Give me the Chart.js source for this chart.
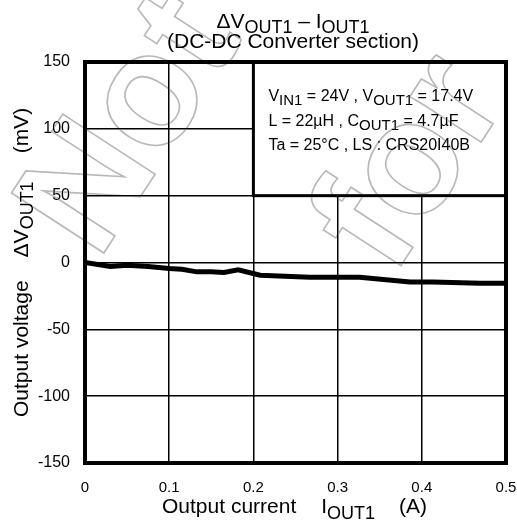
<!DOCTYPE html>
<html>
<head>
<meta charset="utf-8">
<script src="https://cdn.jsdelivr.net/npm/chart.js@4"></script>
<style>
  body { margin: 0; background: #fff; }
  canvas { display: block; }
</style>
</head>
<body>
<canvas id="chartVout" width="517" height="522"></canvas>
<script>
// output current (A) vs output voltage change (mV)
var currentA = [0, 0.03, 0.05, 0.075, 0.1, 0.115, 0.133, 0.15, 0.165, 0.182, 0.208, 0.267, 0.326, 0.386, 0.413, 0.469, 0.5];
var deltaMv = [0, -3, -2, -3, -4.5, -5, -7, -7, -7.5, -5.5, -9.5, -11, -11, -14.5, -14.5, -15.5, -15.5];
var xTickLabels = ["0", "0.1", "0.2", "0.3", "0.4", "0.5"];
var yTickLabels = ["-150", "-100", "-50", "0", "50", "100", "150"];

var FONT = "'Liberation Sans', Arial, sans-serif";

// draws text pieces one after another; each piece = [text, size, dy, gapBefore]
function drawRich(ctx, segs, x, y, align) {
    var total = 0;
    segs.forEach(function (s) {
        ctx.font = s[1] + "px " + FONT;
        total += (s[3] || 0) + ctx.measureText(s[0]).width;
    });
    var cx = align === "center" ? x - total / 2 : x;
    segs.forEach(function (s) {
        ctx.font = s[1] + "px " + FONT;
        cx += (s[3] || 0);
        ctx.fillText(s[0], cx, y + (s[2] || 0));
        cx += ctx.measureText(s[0]).width;
    });
}

var decorPlugin = {
    id: "decor",
    beforeDraw: function (chart) {
        var ctx = chart.ctx;
        ctx.save();
        ctx.fillStyle = "#fff";
        ctx.fillRect(0, 0, chart.width, chart.height);
        ctx.restore();
    },
    beforeDatasetsDraw: function (chart) {
        var ctx = chart.ctx;
        var xs = chart.scales.x, ys = chart.scales.y, a = chart.chartArea;
        var bx = xs.getPixelForValue(0.2), by = ys.getPixelForValue(50);
        ctx.save();
        ctx.fillStyle = "#fff";
        ctx.fillRect(bx, a.top, a.right - bx, by - a.top);
        ctx.lineWidth = 3;
        ctx.strokeStyle = "#000";
        ctx.strokeRect(bx, a.top, a.right - bx, by - a.top);

        ctx.fillStyle = "#000";
        ctx.textBaseline = "alphabetic";
        ctx.textAlign = "left";
        drawRich(ctx, [["V", 16], ["IN1", 15, 4], [" = 24V , V", 16], ["OUT1", 15, 4], [" = 17.4V", 16]], bx + 15, 101);
        drawRich(ctx, [["L = 22\u00b5H , C", 16], ["OUT1", 15, 4], [" = 4.7\u00b5F", 16]], bx + 15, 126);
        drawRich(ctx, [["Ta = 25\u00b0C , LS : CRS20I40B", 16]], bx + 15, 150);
        ctx.restore();
    },
    afterDraw: function (chart) {
        var ctx = chart.ctx, a = chart.chartArea;
        ctx.save();
        // frame
        ctx.lineWidth = 4;
        ctx.strokeStyle = "#000";
        ctx.strokeRect(a.left, a.top, a.right - a.left, a.bottom - a.top);

        ctx.fillStyle = "#000";
        ctx.textAlign = "left";
        ctx.textBaseline = "alphabetic";
        var mid = 293;
        drawRich(ctx, [["\u0394V", 21], ["OUT1", 18, 5], [" \u2013 I", 21], ["OUT1", 18, 5]], mid, 28, "center");
        drawRich(ctx, [["(DC-DC Converter section)", 21]], mid, 48, "center");

        // x axis title
        drawRich(ctx, [["Output current", 21], ["I", 21, 0, 25], ["OUT1", 18, 6], ["(A)", 21, 0, 24]], 162, 513);

        // y axis title
        ctx.translate(28, 417);
        ctx.rotate(-Math.PI / 2);
        drawRich(ctx, [["Output voltage", 21], ["\u0394V", 21, 0, 23], ["OUT1", 18, 5], ["(mV)", 21, 0, 28]], 0, 0);
        ctx.restore();

        // faint outlined watermark
        ctx.save();
        ctx.globalCompositeOperation = "darken";
        ctx.strokeStyle = "#b8b8b8";
        ctx.lineWidth = 1.6;
        ctx.font = "bold 160px " + FONT;
        ctx.translate(98, 262);
        ctx.rotate(-57 * Math.PI / 180);
        ctx.strokeText("Not", 0, 0);
        ctx.strokeText("for", 147, 256);
        ctx.restore();
    }
};

var ctxV = document.getElementById("chartVout").getContext("2d");
var points = currentA.map(function (x, i) { return { x: x, y: deltaMv[i] }; });

var voutChart = new Chart(ctxV, {
    type: "line",
    data: {
        datasets: [{
            data: points,
            borderColor: "#000",
            borderWidth: 5,
            pointRadius: 0,
            tension: 0,
            fill: false
        }]
    },
    options: {
        responsive: false,
        animation: false,
        layout: { padding: { top: 62, right: 11, bottom: 0, left: 0 } },
        plugins: {
            legend: { display: false },
            title: { display: false },
            tooltip: { enabled: false }
        },
        scales: {
            x: {
                type: "linear",
                min: 0,
                max: 0.5,
                ticks: {
                    stepSize: 0.1,
                    color: "#000",
                    font: { size: 15, family: FONT },
                    padding: 16,
                    maxRotation: 0,
                    callback: function (v, i) { return xTickLabels[i]; }
                },
                grid: { color: "#000", lineWidth: 1.5, drawTicks: false },
                border: { display: false },
                afterFit: function (s) { s.height = 59; s.paddingRight = 0; s.paddingLeft = 0; }
            },
            y: {
                min: -150,
                max: 150,
                ticks: {
                    stepSize: 50,
                    color: "#000",
                    font: { size: 16, family: FONT },
                    padding: 15,
                    callback: function (v, i) { return yTickLabels[i]; }
                },
                grid: { color: "#000", lineWidth: 1.5, drawTicks: false },
                border: { display: false },
                afterFit: function (s) { s.width = 85; s.paddingTop = 0; s.paddingBottom = 0; }
            }
        }
    },
    plugins: [decorPlugin]
});
</script>
</body>
</html>
